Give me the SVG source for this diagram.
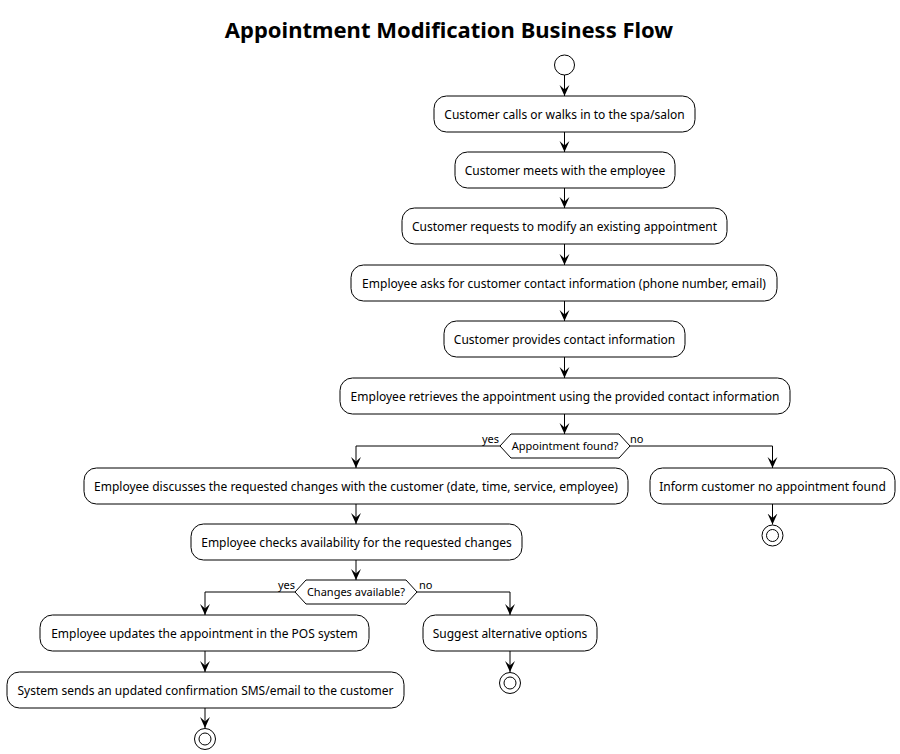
<svg xmlns="http://www.w3.org/2000/svg" width="900" height="754" viewBox="0 0 900 754">
<style>
.bg{fill:#fff}
.act rect{fill:#fff;stroke:#000;stroke-width:1}
.act text,.dec text{font-family:"Noto Sans","DejaVu Sans",sans-serif;font-size:12px;fill:#000;text-anchor:middle}
.dec polygon{fill:#fff;stroke:#000;stroke-width:1}
.dec text{font-size:11px}
.lbl{font-family:"Noto Sans","DejaVu Sans",sans-serif;font-size:11px;fill:#000}
.ln{fill:none;stroke:#000;stroke-width:1}
.circ{fill:#fff;stroke:#000;stroke-width:1}
.title{font-family:"Noto Sans","DejaVu Sans",sans-serif;font-size:22px;font-weight:bold;text-anchor:middle;fill:#000}
</style>
<defs>
<marker id="ah" viewBox="0 0 10 10" refX="10" refY="5" markerWidth="11" markerHeight="11" markerUnits="userSpaceOnUse" orient="auto">
<path d="M0,0.5 L10,5 L0,9.5 L4,5 Z" fill="#000"/>
</marker>
</defs>
<rect class="bg" x="0" y="0" width="900" height="754"/>
<text class="title" x="449" y="38">Appointment Modification Business Flow</text>

<g id="connectors">
<path class="ln" d="M564.5,75 V96" marker-end="url(#ah)"/>
<path class="ln" d="M564.5,132 V152" marker-end="url(#ah)"/>
<path class="ln" d="M564.5,188 V208" marker-end="url(#ah)"/>
<path class="ln" d="M564.5,244 V265" marker-end="url(#ah)"/>
<path class="ln" d="M564.5,301 V321" marker-end="url(#ah)"/>
<path class="ln" d="M564.5,357 V378" marker-end="url(#ah)"/>
<path class="ln" d="M564.5,414 V434" marker-end="url(#ah)"/>
<path class="ln" d="M500,446 H356 V468" marker-end="url(#ah)"/>
<path class="ln" d="M630,446 H772.5 V468" marker-end="url(#ah)"/>
<path class="ln" d="M772.5,504 V524.5" marker-end="url(#ah)"/>
<path class="ln" d="M356,504 V524" marker-end="url(#ah)"/>
<path class="ln" d="M356,560 V580" marker-end="url(#ah)"/>
<path class="ln" d="M295,592 H205 V615" marker-end="url(#ah)"/>
<path class="ln" d="M417,592 H510 V615" marker-end="url(#ah)"/>
<path class="ln" d="M510,651 V672" marker-end="url(#ah)"/>
<path class="ln" d="M205,651 V672" marker-end="url(#ah)"/>
<path class="ln" d="M205,708 V728" marker-end="url(#ah)"/>
<text class="lbl" x="482" y="443">yes</text>
<text class="lbl" x="630" y="443">no</text>
<text class="lbl" x="278" y="589">yes</text>
<text class="lbl" x="419" y="589">no</text>
</g>

<g id="start"><circle class="circ" cx="564.5" cy="65" r="10"/></g>

<g id="a1" class="act"><rect x="434" y="96" width="261" height="36" rx="12.5"/><text x="564.5" y="118.5">Customer calls or walks in to the spa/salon</text></g>
<g id="a2" class="act"><rect x="455" y="152" width="220" height="36" rx="12.5"/><text x="565" y="174.5">Customer meets with the employee</text></g>
<g id="a3" class="act"><rect x="402" y="208" width="325" height="36" rx="12.5"/><text x="564.5" y="230.5">Customer requests to modify an existing appointment</text></g>
<g id="a4" class="act"><rect x="351" y="265" width="426" height="36" rx="12.5"/><text x="564" y="287.5">Employee asks for customer contact information (phone number, email)</text></g>
<g id="a5" class="act"><rect x="444" y="321" width="241" height="36" rx="12.5"/><text x="564.5" y="343.5">Customer provides contact information</text></g>
<g id="a6" class="act"><rect x="340" y="378" width="450" height="36" rx="12.5"/><text x="565" y="400.5">Employee retrieves the appointment using the provided contact information</text></g>

<g id="d1" class="dec"><polygon points="500,446 511,434 619,434 630,446 619,458 511,458"/><text x="565" y="450">Appointment found?</text></g>

<g id="a7" class="act"><rect x="84" y="468" width="544" height="36" rx="12.5"/><text x="356" y="490.5">Employee discusses the requested changes with the customer (date, time, service, employee)</text></g>
<g id="a8" class="act"><rect x="650" y="468" width="245" height="36" rx="12.5"/><text x="772.5" y="490.5">Inform customer no appointment found</text></g>
<g id="end1"><circle class="circ" cx="772.5" cy="535.5" r="10.5"/><circle class="circ" cx="772.5" cy="535.5" r="6"/></g>

<g id="a9" class="act"><rect x="191" y="524" width="331" height="36" rx="12.5"/><text x="356.5" y="546.5">Employee checks availability for the requested changes</text></g>

<g id="d2" class="dec"><polygon points="295,592 306,580 406,580 417,592 406,604 306,604"/><text x="356" y="596">Changes available?</text></g>

<g id="a10" class="act"><rect x="40" y="615" width="329" height="36" rx="12.5"/><text x="204.5" y="637.5">Employee updates the appointment in the POS system</text></g>
<g id="a11" class="act"><rect x="423" y="615" width="174" height="36" rx="12.5"/><text x="510" y="637.5">Suggest alternative options</text></g>
<g id="end2"><circle class="circ" cx="510" cy="683" r="10.5"/><circle class="circ" cx="510" cy="683" r="6"/></g>

<g id="a12" class="act"><rect x="7" y="672" width="397" height="36" rx="12.5"/><text x="205.5" y="694.5">System sends an updated confirmation SMS/email to the customer</text></g>
<g id="end3"><circle class="circ" cx="205" cy="739" r="10.5"/><circle class="circ" cx="205" cy="739" r="6"/></g>
</svg>
